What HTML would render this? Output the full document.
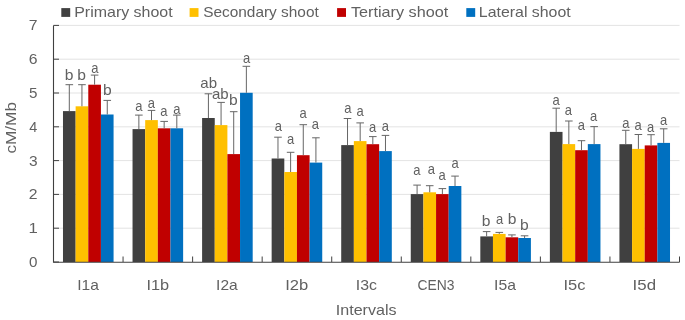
<!DOCTYPE html><html><head><meta charset="utf-8"><title>Chart</title><style>html,body{margin:0;padding:0;background:#fff}svg{display:block}text{font-family:"Liberation Sans",sans-serif;font-size:14.5px;fill:#616161}</style></head><body>
<svg width="685" height="320" viewBox="0 0 685 320">
<rect width="685" height="320" fill="#fff"/>
<line x1="53.5" y1="228.20" x2="679.5" y2="228.20" stroke="#DCDCDC" stroke-width="0.8"/>
<line x1="53.5" y1="194.40" x2="679.5" y2="194.40" stroke="#DCDCDC" stroke-width="0.8"/>
<line x1="53.5" y1="160.60" x2="679.5" y2="160.60" stroke="#DCDCDC" stroke-width="0.8"/>
<line x1="53.5" y1="126.80" x2="679.5" y2="126.80" stroke="#DCDCDC" stroke-width="0.8"/>
<line x1="53.5" y1="93.00" x2="679.5" y2="93.00" stroke="#DCDCDC" stroke-width="0.8"/>
<line x1="53.5" y1="59.20" x2="679.5" y2="59.20" stroke="#DCDCDC" stroke-width="0.8"/>
<line x1="53.5" y1="25.40" x2="679.5" y2="25.40" stroke="#DCDCDC" stroke-width="0.8"/>
<rect x="62.98" y="111.10" width="12.65" height="150.90" fill="#404040"/>
<rect x="75.63" y="106.30" width="12.65" height="155.70" fill="#FFC000"/>
<rect x="88.28" y="84.70" width="12.65" height="177.30" fill="#C00000"/>
<rect x="100.92" y="114.50" width="12.65" height="147.50" fill="#0070C0"/>
<path d="M69.31 111.10V84.70M65.51 84.70H73.11" stroke="#666" stroke-width="1" fill="none"/>
<path d="M81.95 106.30V84.70M78.15 84.70H85.75" stroke="#666" stroke-width="1" fill="none"/>
<path d="M94.60 84.70V75.10M90.80 75.10H98.40" stroke="#666" stroke-width="1" fill="none"/>
<path d="M107.25 114.50V100.40M103.45 100.40H111.05" stroke="#666" stroke-width="1" fill="none"/>
<rect x="132.54" y="129.10" width="12.65" height="132.90" fill="#404040"/>
<rect x="145.19" y="120.10" width="12.65" height="141.90" fill="#FFC000"/>
<rect x="157.83" y="128.30" width="12.65" height="133.70" fill="#C00000"/>
<rect x="170.48" y="128.30" width="12.65" height="133.70" fill="#0070C0"/>
<path d="M138.86 129.10V115.10M135.06 115.10H142.66" stroke="#666" stroke-width="1" fill="none"/>
<path d="M151.51 120.10V110.40M147.71 110.40H155.31" stroke="#666" stroke-width="1" fill="none"/>
<path d="M164.16 128.30V121.40M160.36 121.40H167.96" stroke="#666" stroke-width="1" fill="none"/>
<path d="M176.80 128.30V115.10M173.00 115.10H180.60" stroke="#666" stroke-width="1" fill="none"/>
<rect x="202.10" y="118.00" width="12.65" height="144.00" fill="#404040"/>
<rect x="214.74" y="125.10" width="12.65" height="136.90" fill="#FFC000"/>
<rect x="227.39" y="154.10" width="12.65" height="107.90" fill="#C00000"/>
<rect x="240.04" y="92.80" width="12.65" height="169.20" fill="#0070C0"/>
<path d="M208.42 118.00V93.80M204.62 93.80H212.22" stroke="#666" stroke-width="1" fill="none"/>
<path d="M221.07 125.10V102.40M217.27 102.40H224.87" stroke="#666" stroke-width="1" fill="none"/>
<path d="M233.71 154.10V111.70M229.91 111.70H237.51" stroke="#666" stroke-width="1" fill="none"/>
<path d="M246.36 92.80V66.30M242.56 66.30H250.16" stroke="#666" stroke-width="1" fill="none"/>
<rect x="271.65" y="158.50" width="12.65" height="103.50" fill="#404040"/>
<rect x="284.30" y="172.00" width="12.65" height="90.00" fill="#FFC000"/>
<rect x="296.94" y="155.20" width="12.65" height="106.80" fill="#C00000"/>
<rect x="309.59" y="162.60" width="12.65" height="99.40" fill="#0070C0"/>
<path d="M277.97 158.50V137.20M274.17 137.20H281.77" stroke="#666" stroke-width="1" fill="none"/>
<path d="M290.62 172.00V152.30M286.82 152.30H294.42" stroke="#666" stroke-width="1" fill="none"/>
<path d="M303.27 155.20V124.70M299.47 124.70H307.07" stroke="#666" stroke-width="1" fill="none"/>
<path d="M315.91 162.60V137.80M312.11 137.80H319.71" stroke="#666" stroke-width="1" fill="none"/>
<rect x="341.21" y="145.10" width="12.65" height="116.90" fill="#404040"/>
<rect x="353.85" y="141.10" width="12.65" height="120.90" fill="#FFC000"/>
<rect x="366.50" y="144.20" width="12.65" height="117.80" fill="#C00000"/>
<rect x="379.15" y="151.10" width="12.65" height="110.90" fill="#0070C0"/>
<path d="M347.53 145.10V118.50M343.73 118.50H351.33" stroke="#666" stroke-width="1" fill="none"/>
<path d="M360.18 141.10V122.90M356.38 122.90H363.98" stroke="#666" stroke-width="1" fill="none"/>
<path d="M372.82 144.20V136.60M369.02 136.60H376.62" stroke="#666" stroke-width="1" fill="none"/>
<path d="M385.47 151.10V135.40M381.67 135.40H389.27" stroke="#666" stroke-width="1" fill="none"/>
<rect x="410.76" y="194.10" width="12.65" height="67.90" fill="#404040"/>
<rect x="423.41" y="192.30" width="12.65" height="69.70" fill="#FFC000"/>
<rect x="436.06" y="194.10" width="12.65" height="67.90" fill="#C00000"/>
<rect x="448.70" y="186.00" width="12.65" height="76.00" fill="#0070C0"/>
<path d="M417.09 194.10V185.10M413.29 185.10H420.89" stroke="#666" stroke-width="1" fill="none"/>
<path d="M429.73 192.30V185.70M425.93 185.70H433.53" stroke="#666" stroke-width="1" fill="none"/>
<path d="M442.38 194.10V188.60M438.58 188.60H446.18" stroke="#666" stroke-width="1" fill="none"/>
<path d="M455.03 186.00V176.10M451.23 176.10H458.83" stroke="#666" stroke-width="1" fill="none"/>
<rect x="480.32" y="236.40" width="12.65" height="25.60" fill="#404040"/>
<rect x="492.96" y="233.90" width="12.65" height="28.10" fill="#FFC000"/>
<rect x="505.61" y="237.30" width="12.65" height="24.70" fill="#C00000"/>
<rect x="518.26" y="238.00" width="12.65" height="24.00" fill="#0070C0"/>
<path d="M486.64 236.40V231.60M482.84 231.60H490.44" stroke="#666" stroke-width="1" fill="none"/>
<path d="M499.29 233.90V232.40M495.49 232.40H503.09" stroke="#666" stroke-width="1" fill="none"/>
<path d="M511.93 237.30V234.90M508.13 234.90H515.73" stroke="#666" stroke-width="1" fill="none"/>
<path d="M524.58 238.00V235.80M520.78 235.80H528.38" stroke="#666" stroke-width="1" fill="none"/>
<rect x="549.87" y="131.90" width="12.65" height="130.10" fill="#404040"/>
<rect x="562.52" y="144.10" width="12.65" height="117.90" fill="#FFC000"/>
<rect x="575.17" y="150.20" width="12.65" height="111.80" fill="#C00000"/>
<rect x="587.81" y="144.10" width="12.65" height="117.90" fill="#0070C0"/>
<path d="M556.20 131.90V108.20M552.40 108.20H560.00" stroke="#666" stroke-width="1" fill="none"/>
<path d="M568.84 144.10V121.00M565.04 121.00H572.64" stroke="#666" stroke-width="1" fill="none"/>
<path d="M581.49 150.20V140.70M577.69 140.70H585.29" stroke="#666" stroke-width="1" fill="none"/>
<path d="M594.14 144.10V126.60M590.34 126.60H597.94" stroke="#666" stroke-width="1" fill="none"/>
<rect x="619.43" y="144.20" width="12.65" height="117.80" fill="#404040"/>
<rect x="632.08" y="148.90" width="12.65" height="113.10" fill="#FFC000"/>
<rect x="644.72" y="145.40" width="12.65" height="116.60" fill="#C00000"/>
<rect x="657.37" y="142.90" width="12.65" height="119.10" fill="#0070C0"/>
<path d="M625.75 144.20V130.30M621.95 130.30H629.55" stroke="#666" stroke-width="1" fill="none"/>
<path d="M638.40 148.90V134.50M634.60 134.50H642.20" stroke="#666" stroke-width="1" fill="none"/>
<path d="M651.05 145.40V134.70M647.25 134.70H654.85" stroke="#666" stroke-width="1" fill="none"/>
<path d="M663.69 142.90V128.80M659.89 128.80H667.49" stroke="#666" stroke-width="1" fill="none"/>
<path d="M53.50 25.40V262.20H679.70" stroke="#404040" stroke-width="1.1" fill="none"/>
<line x1="53.50" y1="262.00" x2="59.00" y2="262.00" stroke="#404040" stroke-width="1"/>
<line x1="53.50" y1="228.20" x2="59.00" y2="228.20" stroke="#404040" stroke-width="1"/>
<line x1="53.50" y1="194.40" x2="59.00" y2="194.40" stroke="#404040" stroke-width="1"/>
<line x1="53.50" y1="160.60" x2="59.00" y2="160.60" stroke="#404040" stroke-width="1"/>
<line x1="53.50" y1="126.80" x2="59.00" y2="126.80" stroke="#404040" stroke-width="1"/>
<line x1="53.50" y1="93.00" x2="59.00" y2="93.00" stroke="#404040" stroke-width="1"/>
<line x1="53.50" y1="59.20" x2="59.00" y2="59.20" stroke="#404040" stroke-width="1"/>
<line x1="53.50" y1="25.40" x2="59.00" y2="25.40" stroke="#404040" stroke-width="1"/>
<line x1="123.06" y1="262.00" x2="123.06" y2="256.50" stroke="#404040" stroke-width="1"/>
<line x1="192.61" y1="262.00" x2="192.61" y2="256.50" stroke="#404040" stroke-width="1"/>
<line x1="262.17" y1="262.00" x2="262.17" y2="256.50" stroke="#404040" stroke-width="1"/>
<line x1="331.72" y1="262.00" x2="331.72" y2="256.50" stroke="#404040" stroke-width="1"/>
<line x1="401.28" y1="262.00" x2="401.28" y2="256.50" stroke="#404040" stroke-width="1"/>
<line x1="470.83" y1="262.00" x2="470.83" y2="256.50" stroke="#404040" stroke-width="1"/>
<line x1="540.39" y1="262.00" x2="540.39" y2="256.50" stroke="#404040" stroke-width="1"/>
<line x1="609.94" y1="262.00" x2="609.94" y2="256.50" stroke="#404040" stroke-width="1"/>
<line x1="679.50" y1="262.00" x2="679.50" y2="256.50" stroke="#404040" stroke-width="1"/>
<text x="29.05" y="267.20" textLength="8.46" lengthAdjust="spacingAndGlyphs">0</text>
<text x="28.40" y="233.31" textLength="9.31" lengthAdjust="spacingAndGlyphs">1</text>
<text x="28.88" y="199.42" textLength="8.78" lengthAdjust="spacingAndGlyphs">2</text>
<text x="29.03" y="165.53" textLength="8.62" lengthAdjust="spacingAndGlyphs">3</text>
<text x="29.33" y="131.64" textLength="8.02" lengthAdjust="spacingAndGlyphs">4</text>
<text x="29.05" y="97.75" textLength="8.46" lengthAdjust="spacingAndGlyphs">5</text>
<text x="28.88" y="63.86" textLength="8.78" lengthAdjust="spacingAndGlyphs">6</text>
<text x="28.88" y="29.97" textLength="8.78" lengthAdjust="spacingAndGlyphs">7</text>
<text x="77.23" y="290.00" textLength="21.62" lengthAdjust="spacingAndGlyphs">I1a</text>
<text x="146.45" y="290.00" textLength="22.70" lengthAdjust="spacingAndGlyphs">I1b</text>
<text x="216.13" y="290.00" textLength="21.62" lengthAdjust="spacingAndGlyphs">I2a</text>
<text x="285.23" y="290.00" textLength="23.04" lengthAdjust="spacingAndGlyphs">I2b</text>
<text x="355.79" y="290.00" textLength="21.18" lengthAdjust="spacingAndGlyphs">I3c</text>
<text x="417.48" y="290.00" textLength="36.97" lengthAdjust="spacingAndGlyphs">CEN3</text>
<text x="494.11" y="290.00" textLength="21.84" lengthAdjust="spacingAndGlyphs">I5a</text>
<text x="563.44" y="290.00" textLength="21.95" lengthAdjust="spacingAndGlyphs">I5c</text>
<text x="632.60" y="290.00" textLength="23.47" lengthAdjust="spacingAndGlyphs">I5d</text>
<text x="335.78" y="315.00" textLength="60.75" lengthAdjust="spacingAndGlyphs">Intervals</text>
<text transform="translate(16.4,152.80) rotate(-90)" x="-0.74" y="0" textLength="51.48" lengthAdjust="spacingAndGlyphs">cM/Mb</text>
<rect x="61.3" y="8.1" width="8.9" height="8.8" fill="#404040"/>
<text x="74.22" y="16.90" textLength="98.46" lengthAdjust="spacingAndGlyphs">Primary shoot</text>
<rect x="189.6" y="8.1" width="8.9" height="8.8" fill="#FFC000"/>
<text x="203.20" y="16.90" textLength="115.58" lengthAdjust="spacingAndGlyphs">Secondary shoot</text>
<rect x="337.1" y="8.1" width="8.9" height="8.8" fill="#C00000"/>
<text x="350.98" y="16.90" textLength="97.21" lengthAdjust="spacingAndGlyphs">Tertiary shoot</text>
<rect x="466.3" y="8.1" width="8.9" height="8.8" fill="#0070C0"/>
<text x="478.83" y="16.90" textLength="91.87" lengthAdjust="spacingAndGlyphs">Lateral shoot</text>
<text x="64.72" y="80.30" textLength="8.70" lengthAdjust="spacingAndGlyphs">b</text>
<text x="77.17" y="79.70" textLength="8.70" lengthAdjust="spacingAndGlyphs">b</text>
<text x="91.34" y="72.60" textLength="7.22" lengthAdjust="spacingAndGlyphs">a</text>
<text x="102.92" y="94.50" textLength="8.70" lengthAdjust="spacingAndGlyphs">b</text>
<text x="135.24" y="110.70" textLength="7.22" lengthAdjust="spacingAndGlyphs">a</text>
<text x="147.64" y="107.60" textLength="7.22" lengthAdjust="spacingAndGlyphs">a</text>
<text x="160.24" y="115.50" textLength="7.22" lengthAdjust="spacingAndGlyphs">a</text>
<text x="173.19" y="113.60" textLength="7.22" lengthAdjust="spacingAndGlyphs">a</text>
<text x="200.30" y="87.60" textLength="16.71" lengthAdjust="spacingAndGlyphs">ab</text>
<text x="212.00" y="98.60" textLength="16.71" lengthAdjust="spacingAndGlyphs">ab</text>
<text x="228.92" y="104.50" textLength="8.70" lengthAdjust="spacingAndGlyphs">b</text>
<text x="242.94" y="63.40" textLength="7.22" lengthAdjust="spacingAndGlyphs">a</text>
<text x="274.64" y="130.80" textLength="7.22" lengthAdjust="spacingAndGlyphs">a</text>
<text x="286.94" y="143.60" textLength="7.22" lengthAdjust="spacingAndGlyphs">a</text>
<text x="299.39" y="117.60" textLength="7.22" lengthAdjust="spacingAndGlyphs">a</text>
<text x="311.84" y="129.10" textLength="7.22" lengthAdjust="spacingAndGlyphs">a</text>
<text x="344.14" y="113.20" textLength="7.22" lengthAdjust="spacingAndGlyphs">a</text>
<text x="356.54" y="116.30" textLength="7.22" lengthAdjust="spacingAndGlyphs">a</text>
<text x="368.94" y="132.30" textLength="7.22" lengthAdjust="spacingAndGlyphs">a</text>
<text x="381.84" y="130.50" textLength="7.22" lengthAdjust="spacingAndGlyphs">a</text>
<text x="413.14" y="175.40" textLength="7.22" lengthAdjust="spacingAndGlyphs">a</text>
<text x="427.64" y="173.60" textLength="7.22" lengthAdjust="spacingAndGlyphs">a</text>
<text x="438.59" y="179.80" textLength="7.22" lengthAdjust="spacingAndGlyphs">a</text>
<text x="451.54" y="167.80" textLength="7.22" lengthAdjust="spacingAndGlyphs">a</text>
<text x="481.87" y="225.70" textLength="8.70" lengthAdjust="spacingAndGlyphs">b</text>
<text x="495.94" y="223.60" textLength="7.22" lengthAdjust="spacingAndGlyphs">a</text>
<text x="507.67" y="224.10" textLength="8.70" lengthAdjust="spacingAndGlyphs">b</text>
<text x="520.02" y="229.70" textLength="8.70" lengthAdjust="spacingAndGlyphs">b</text>
<text x="552.39" y="105.10" textLength="7.22" lengthAdjust="spacingAndGlyphs">a</text>
<text x="564.64" y="114.50" textLength="7.22" lengthAdjust="spacingAndGlyphs">a</text>
<text x="577.84" y="130.30" textLength="7.22" lengthAdjust="spacingAndGlyphs">a</text>
<text x="590.09" y="121.10" textLength="7.22" lengthAdjust="spacingAndGlyphs">a</text>
<text x="622.29" y="128.00" textLength="7.22" lengthAdjust="spacingAndGlyphs">a</text>
<text x="634.54" y="130.10" textLength="7.22" lengthAdjust="spacingAndGlyphs">a</text>
<text x="647.04" y="132.20" textLength="7.22" lengthAdjust="spacingAndGlyphs">a</text>
<text x="659.94" y="125.10" textLength="7.22" lengthAdjust="spacingAndGlyphs">a</text>
</svg></body></html>
